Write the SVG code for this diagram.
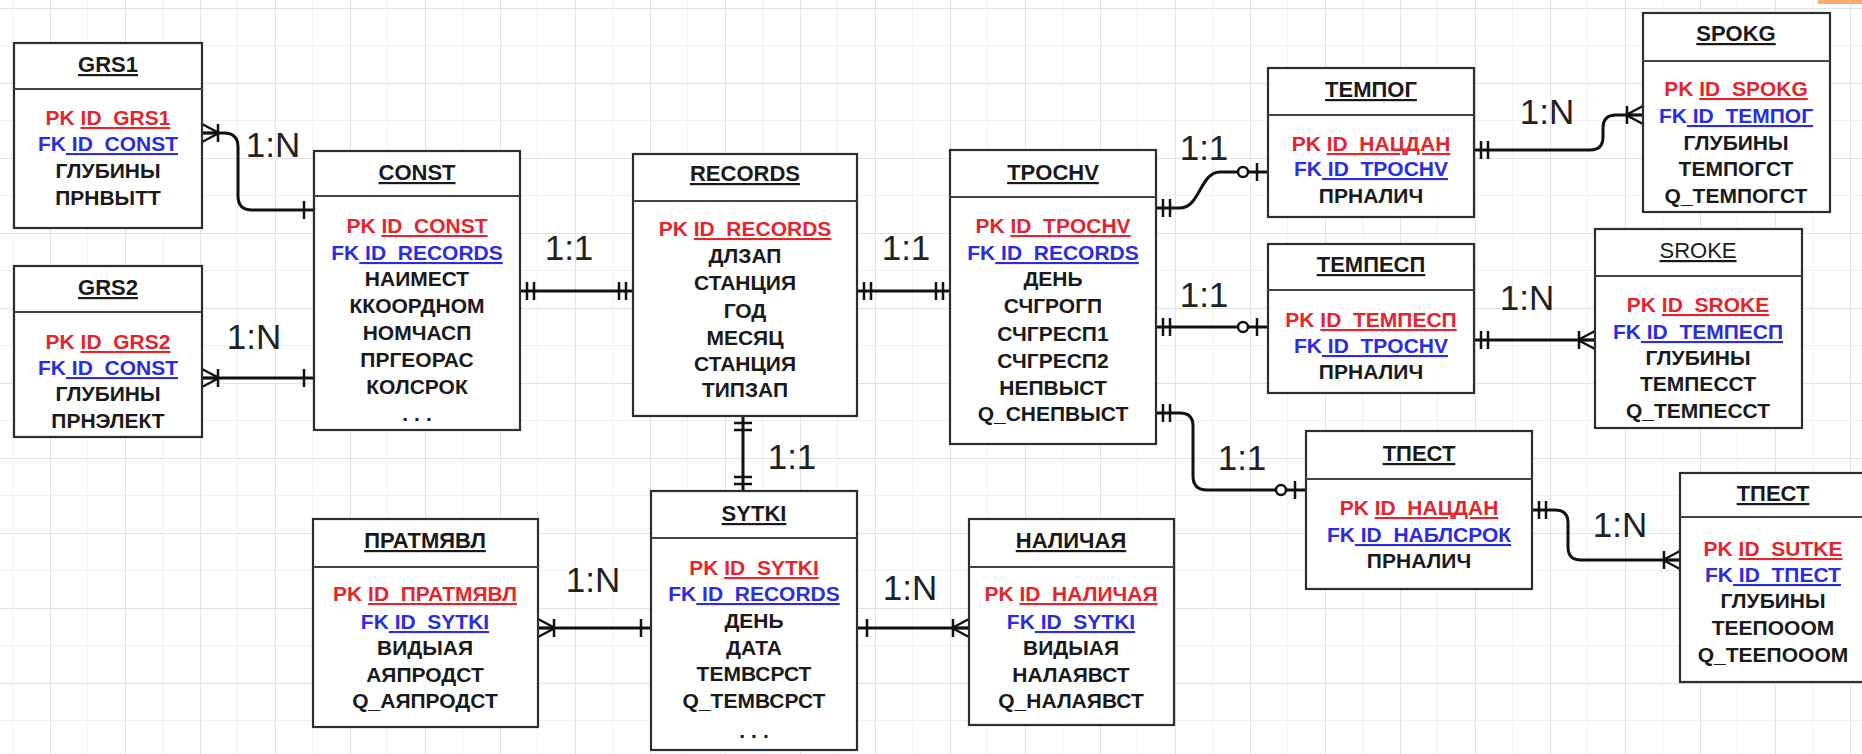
<svg xmlns="http://www.w3.org/2000/svg" width="1862" height="754" viewBox="0 0 1862 754">
<style>
.bg{fill:#fff}
.box{fill:#fff;stroke:#2e2e2e;stroke-width:2.2}
.dv{stroke:#444;stroke-width:2}
.t{font-family:"Liberation Sans",Arial,sans-serif;font-weight:bold;font-size:21px;text-anchor:middle;fill:#1a1a1a}
.ti{font-size:22px;text-decoration:underline}
.tn{font-weight:normal}
.pk{fill:#e3262d}
.fk{fill:#2a2ee0}
.u{text-decoration:underline}
.dots{letter-spacing:6px}
.lbl{font-family:"Liberation Sans",Arial,sans-serif;font-size:35px;fill:#222;text-anchor:middle}
.conn path{fill:none;stroke:#111;stroke-width:3}
.mk{fill:none;stroke:#111;stroke-width:2.5}
.mkc{fill:#fff;stroke:#111;stroke-width:2.5}
</style>
<defs>
<pattern id="grid" width="75" height="75" patternUnits="userSpaceOnUse" x="50" y="8">
<path d="M0,37.5H75M37.5,0V75" stroke="#f1f1f1" stroke-width="1" fill="none"/>
<path d="M0,0.5H75M0.5,0V75" stroke="#e3e3e3" stroke-width="1" fill="none"/>
</pattern>
<marker id="dbl" markerUnits="userSpaceOnUse" orient="auto-start-reverse" refX="0" refY="0" markerWidth="1" markerHeight="1" overflow="visible"><path class="mk" d="M-7,-9V9M-14,-9V9"/></marker>
<marker id="one" markerUnits="userSpaceOnUse" orient="auto-start-reverse" refX="0" refY="0" markerWidth="1" markerHeight="1" overflow="visible"><path class="mk" d="M-10,-9V9"/></marker>
<marker id="many" markerUnits="userSpaceOnUse" orient="auto-start-reverse" refX="0" refY="0" markerWidth="1" markerHeight="1" overflow="visible"><path class="mk" d="M-17,0L0,-9M-17,0L0,0M-17,0L0,9M-16,-9V9"/></marker>
<marker id="zo" markerUnits="userSpaceOnUse" orient="auto-start-reverse" refX="0" refY="0" markerWidth="1" markerHeight="1" overflow="visible"><path class="mk" d="M-11,-9V9"/><circle class="mkc" cx="-25" cy="0" r="5"/></marker>
</defs>
<rect class="bg" x="0" y="0" width="1862" height="754"/>
<rect x="0" y="0" width="1862" height="754" fill="url(#grid)"/>
<rect x="1818" y="0" width="44" height="4" fill="#f6ad72"/>

<g id="connectors" class="conn">
<path d="M202,133 H224 Q238,133 238,147 V196 Q238,210 252,210 H314" marker-start="url(#many)" marker-end="url(#one)"/>
<path d="M202,378 H314" marker-start="url(#many)" marker-end="url(#one)"/>
<path d="M520,291 H633" marker-start="url(#dbl)" marker-end="url(#dbl)"/>
<path d="M857,291 H950" marker-start="url(#dbl)" marker-end="url(#dbl)"/>
<path d="M743,416 V491" marker-start="url(#dbl)" marker-end="url(#dbl)"/>
<path d="M651,628 H538" marker-start="url(#one)" marker-end="url(#many)"/>
<path d="M857,628 H969" marker-start="url(#one)" marker-end="url(#many)"/>
<path d="M1156,208 H1180 C1200,208 1200,172 1220,172 H1268" marker-start="url(#dbl)" marker-end="url(#zo)"/>
<path d="M1156,327 H1268" marker-start="url(#dbl)" marker-end="url(#zo)"/>
<path d="M1156,413 H1180 Q1193,413 1193,426 V476 Q1193,490 1207,490 H1306" marker-start="url(#dbl)" marker-end="url(#zo)"/>
<path d="M1474,150 H1590 Q1603,150 1603,137 V128 Q1603,115 1616,115 H1643" marker-start="url(#dbl)" marker-end="url(#many)"/>
<path d="M1474,340 H1595" marker-start="url(#dbl)" marker-end="url(#many)"/>
<path d="M1532,510 H1555 Q1568,510 1568,523 V547 Q1568,560 1581,560 H1680" marker-start="url(#dbl)" marker-end="url(#many)"/>
</g>

<g id="labels">
<text class="lbl" x="273" y="157">1:N</text>
<text class="lbl" x="254" y="349">1:N</text>
<text class="lbl" x="569" y="260">1:1</text>
<text class="lbl" x="906" y="260">1:1</text>
<text class="lbl" x="792" y="469">1:1</text>
<text class="lbl" x="593" y="592">1:N</text>
<text class="lbl" x="910" y="600">1:N</text>
<text class="lbl" x="1204" y="160">1:1</text>
<text class="lbl" x="1204" y="307">1:1</text>
<text class="lbl" x="1242" y="470">1:1</text>
<text class="lbl" x="1547" y="124">1:N</text>
<text class="lbl" x="1527" y="310">1:N</text>
<text class="lbl" x="1620" y="537">1:N</text>
</g>

<g id="GRS1">
<rect class="box" x="14" y="43" width="188" height="185"/>
<line class="dv" x1="14" y1="89" x2="202" y2="89"/>
<text class="t ti" x="108" y="72">GRS1</text>
<text class="t" x="108" y="125"><tspan class="pk">PK </tspan><tspan class="pk u">ID_GRS1</tspan></text>
<text class="t" x="108" y="151"><tspan class="fk">FK</tspan><tspan class="fk u"> ID_CONST</tspan></text>
<text class="t" x="108" y="178">ГЛУБИНЫ</text>
<text class="t" x="108" y="205">ПРНВЫТТ</text>
</g>

<g id="GRS2">
<rect class="box" x="14" y="266" width="188" height="171"/>
<line class="dv" x1="14" y1="312" x2="202" y2="312"/>
<text class="t ti" x="108" y="295">GRS2</text>
<text class="t" x="108" y="349"><tspan class="pk">PK </tspan><tspan class="pk u">ID_GRS2</tspan></text>
<text class="t" x="108" y="375"><tspan class="fk">FK</tspan><tspan class="fk u"> ID_CONST</tspan></text>
<text class="t" x="108" y="401">ГЛУБИНЫ</text>
<text class="t" x="108" y="428">ПРНЭЛЕКТ</text>
</g>

<g id="CONST">
<rect class="box" x="314" y="151" width="206" height="279"/>
<line class="dv" x1="314" y1="196" x2="520" y2="196"/>
<text class="t ti" x="417" y="180">CONST</text>
<text class="t" x="417" y="233"><tspan class="pk">PK </tspan><tspan class="pk u">ID_CONST</tspan></text>
<text class="t" x="417" y="260"><tspan class="fk">FK</tspan><tspan class="fk u"> ID_RECORDS</tspan></text>
<text class="t" x="417" y="286">НАИМЕСТ</text>
<text class="t" x="417" y="313">ККООРДНОМ</text>
<text class="t" x="417" y="340">НОМЧАСП</text>
<text class="t" x="417" y="367">ПРГЕОРАС</text>
<text class="t" x="417" y="394">КОЛСРОК</text>
<text class="t dots" x="420" y="421">...</text>
</g>

<g id="RECORDS">
<rect class="box" x="633" y="154" width="224" height="262"/>
<line class="dv" x1="633" y1="201" x2="857" y2="201"/>
<text class="t ti" x="745" y="181">RECORDS</text>
<text class="t" x="745" y="236"><tspan class="pk">PK </tspan><tspan class="pk u">ID_RECORDS</tspan></text>
<text class="t" x="745" y="263">ДЛЗАП</text>
<text class="t" x="745" y="290">СТАНЦИЯ</text>
<text class="t" x="745" y="318">ГОД</text>
<text class="t" x="745" y="345">МЕСЯЦ</text>
<text class="t" x="745" y="371">СТАНЦИЯ</text>
<text class="t" x="745" y="397">ТИПЗАП</text>
</g>

<g id="TPOCHV">
<rect class="box" x="950" y="150" width="206" height="294"/>
<line class="dv" x1="950" y1="197" x2="1156" y2="197"/>
<text class="t ti" x="1053" y="180">TPOCHV</text>
<text class="t" x="1053" y="233"><tspan class="pk">PK </tspan><tspan class="pk u">ID_TPOCHV</tspan></text>
<text class="t" x="1053" y="260"><tspan class="fk">FK</tspan><tspan class="fk u"> ID_RECORDS</tspan></text>
<text class="t" x="1053" y="286">ДЕНЬ</text>
<text class="t" x="1053" y="313">СЧГРОГП</text>
<text class="t" x="1053" y="341">СЧГРЕСП1</text>
<text class="t" x="1053" y="368">СЧГРЕСП2</text>
<text class="t" x="1053" y="395">НЕПВЫСТ</text>
<text class="t" x="1053" y="421">Q_СНЕПВЫСТ</text>
</g>

<g id="TEMPOG">
<rect class="box" x="1268" y="68" width="206" height="149"/>
<line class="dv" x1="1268" y1="115" x2="1474" y2="115"/>
<text class="t ti" x="1371" y="97">ТЕМПОГ</text>
<text class="t" x="1371" y="151"><tspan class="pk">PK </tspan><tspan class="pk u">ID_НАЦДАН</tspan></text>
<text class="t" x="1371" y="176"><tspan class="fk">FK</tspan><tspan class="fk u"> ID_TPOCHV</tspan></text>
<text class="t" x="1371" y="203">ПРНАЛИЧ</text>
</g>

<g id="TEMPESP">
<rect class="box" x="1268" y="244" width="206" height="149"/>
<line class="dv" x1="1268" y1="290" x2="1474" y2="290"/>
<text class="t ti" x="1371" y="272">ТЕМПЕСП</text>
<text class="t" x="1371" y="327"><tspan class="pk">PK </tspan><tspan class="pk u">ID_ТЕМПЕСП</tspan></text>
<text class="t" x="1371" y="353"><tspan class="fk">FK</tspan><tspan class="fk u"> ID_TPOCHV</tspan></text>
<text class="t" x="1371" y="379">ПРНАЛИЧ</text>
</g>

<g id="SPOKG">
<rect class="box" x="1643" y="13" width="187" height="199"/>
<line class="dv" x1="1643" y1="61" x2="1830" y2="61"/>
<text class="t ti" x="1736" y="41">SPOKG</text>
<text class="t" x="1736" y="96"><tspan class="pk">PK </tspan><tspan class="pk u">ID_SPOKG</tspan></text>
<text class="t" x="1736" y="123"><tspan class="fk">FK</tspan><tspan class="fk u"> ID_ТЕМПОГ</tspan></text>
<text class="t" x="1736" y="150">ГЛУБИНЫ</text>
<text class="t" x="1736" y="176">ТЕМПОГСТ</text>
<text class="t" x="1736" y="203">Q_ТЕМПОГСТ</text>
</g>

<g id="SROKE">
<rect class="box" x="1595" y="229" width="207" height="199"/>
<line class="dv" x1="1595" y1="276" x2="1802" y2="276"/>
<text class="t ti tn" x="1698" y="258">SROKE</text>
<text class="t" x="1698" y="312"><tspan class="pk">PK </tspan><tspan class="pk u">ID_SROKE</tspan></text>
<text class="t" x="1698" y="339"><tspan class="fk">FK</tspan><tspan class="fk u"> ID_ТЕМПЕСП</tspan></text>
<text class="t" x="1698" y="365">ГЛУБИНЫ</text>
<text class="t" x="1698" y="391">ТЕМПЕССТ</text>
<text class="t" x="1698" y="418">Q_ТЕМПЕССТ</text>
</g>

<g id="TPEST">
<rect class="box" x="1306" y="431" width="226" height="158"/>
<line class="dv" x1="1306" y1="479" x2="1532" y2="479"/>
<text class="t ti" x="1419" y="461">ТПЕСТ</text>
<text class="t" x="1419" y="515"><tspan class="pk">PK </tspan><tspan class="pk u">ID_НАЦДАН</tspan></text>
<text class="t" x="1419" y="542"><tspan class="fk">FK</tspan><tspan class="fk u"> ID_НАБЛСРОК</tspan></text>
<text class="t" x="1419" y="568">ПРНАЛИЧ</text>
</g>

<g id="TPEST2">
<rect class="box" x="1680" y="473" width="188" height="209"/>
<line class="dv" x1="1680" y1="517" x2="1868" y2="517"/>
<text class="t ti" x="1773" y="501">ТПЕСТ</text>
<text class="t" x="1773" y="556"><tspan class="pk">PK </tspan><tspan class="pk u">ID_SUTKE</tspan></text>
<text class="t" x="1773" y="582"><tspan class="fk">FK</tspan><tspan class="fk u"> ID_ТПЕСТ</tspan></text>
<text class="t" x="1773" y="608">ГЛУБИНЫ</text>
<text class="t" x="1773" y="635">ТЕЕПОООМ</text>
<text class="t" x="1773" y="662">Q_ТЕЕПОООМ</text>
</g>

<g id="SYTKI">
<rect class="box" x="651" y="491" width="206" height="259"/>
<line class="dv" x1="651" y1="538" x2="857" y2="538"/>
<text class="t ti" x="754" y="521">SYTKI</text>
<text class="t" x="754" y="575"><tspan class="pk">PK </tspan><tspan class="pk u">ID_SYTKI</tspan></text>
<text class="t" x="754" y="601"><tspan class="fk">FK</tspan><tspan class="fk u"> ID_RECORDS</tspan></text>
<text class="t" x="754" y="628">ДЕНЬ</text>
<text class="t" x="754" y="655">ДАТА</text>
<text class="t" x="754" y="681">ТЕМВСРСТ</text>
<text class="t" x="754" y="708">Q_ТЕМВСРСТ</text>
<text class="t dots" x="757" y="738">...</text>
</g>

<g id="PRATMYAVL">
<rect class="box" x="313" y="519" width="225" height="208"/>
<line class="dv" x1="313" y1="567" x2="538" y2="567"/>
<text class="t ti" x="425" y="548">ПРАТМЯВЛ</text>
<text class="t" x="425" y="601"><tspan class="pk">PK </tspan><tspan class="pk u">ID_ПРАТМЯВЛ</tspan></text>
<text class="t" x="425" y="629"><tspan class="fk">FK</tspan><tspan class="fk u"> ID_SYTKI</tspan></text>
<text class="t" x="425" y="655">ВИДЫАЯ</text>
<text class="t" x="425" y="682">АЯПРОДСТ</text>
<text class="t" x="425" y="708">Q_АЯПРОДСТ</text>
</g>

<g id="NALICHAYA">
<rect class="box" x="969" y="519" width="205" height="206"/>
<line class="dv" x1="969" y1="567" x2="1174" y2="567"/>
<text class="t ti" x="1071" y="548">НАЛИЧАЯ</text>
<text class="t" x="1071" y="601"><tspan class="pk">PK </tspan><tspan class="pk u">ID_НАЛИЧАЯ</tspan></text>
<text class="t" x="1071" y="629"><tspan class="fk">FK</tspan><tspan class="fk u"> ID_SYTKI</tspan></text>
<text class="t" x="1071" y="655">ВИДЫАЯ</text>
<text class="t" x="1071" y="682">НАЛАЯВСТ</text>
<text class="t" x="1071" y="708">Q_НАЛАЯВСТ</text>
</g>
</svg>
